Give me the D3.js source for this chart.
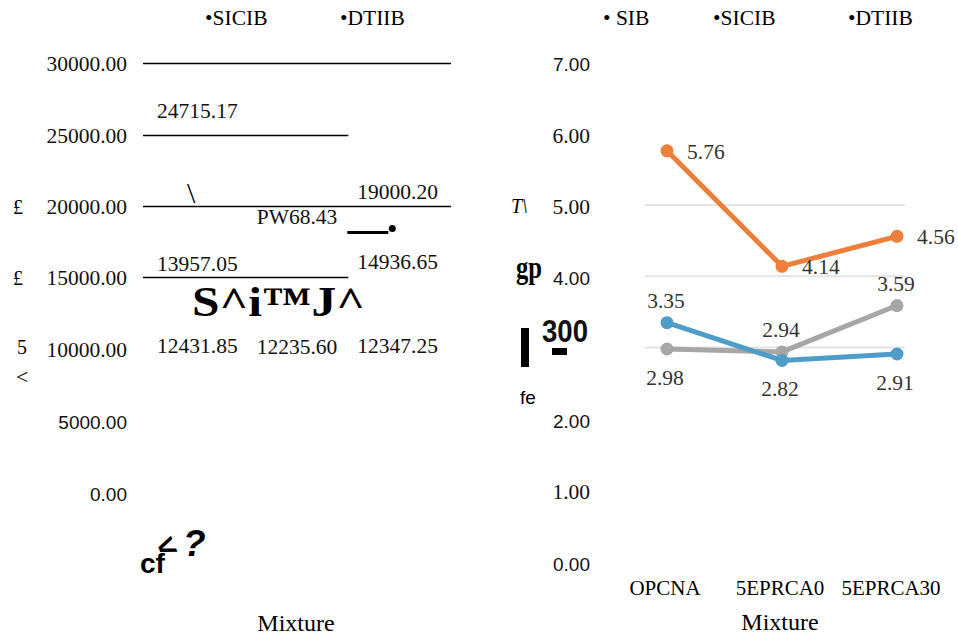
<!DOCTYPE html>
<html>
<head>
<meta charset="utf-8">
<script src="https://cdn.jsdelivr.net/npm/d3@7"></script>
<style>
  body { margin: 0; background: #fff; }
  svg { display: block; }
</style>
</head>
<body>
<div id="viz"></div>
<script>
const width = 958;
const height = 636;

// categories (x axis)
const mixtures = ['OPCNA', '5EPRCA0', '5EPRCA30'];

// left panel: values as they appear in the labels
const leftLegend = ['•SICIB', '•DTIIB'];
const leftTicks = [0, 5000, 10000, 15000, 20000, 25000, 30000];
const leftTickLabels = ['0.00', '5000.00', '10000.00', '15000.00', '20000.00', '25000.00', '30000.00'];
const leftGridValues = [30000, 25000, 20000, 15000];
const leftGridSpan = [3, 2, 3, 2]; // number of categories each line covers
const leftSeriesA = [24715.17, 19068.43, 19000.20];
const leftSeriesALabels = ['24715.17', 'PW68.43', '19000.20'];
const leftSeriesB = [13957.05, null, 14936.65];
const leftSeriesBLabels = ['13957.05', '', '14936.65'];
const leftSeriesC = [12431.85, 12235.60, 12347.25];
const leftSeriesCLabels = ['12431.85', '12235.60', '12347.25'];
const leftStray = 18150;

// right panel
const rightLegend = ['• SIB', '•SICIB', '•DTIIB'];
const rightTicks = [0, 1, 2, 3, 4, 5, 6, 7];
const rightTickLabels = ['0.00', '1.00', '2.00', '300', '4.00', '5.00', '6.00', '7.00'];
const rightGridValues = [3, 4, 5];
const sib = [3.35, 2.82, 2.91];
const sicib = [5.76, 4.14, 4.56];
const dtiib = [2.98, 2.94, 3.59];

const serif = '"Liberation Serif", "Times New Roman", serif';
const sans = '"Liberation Sans", Arial, sans-serif';

const svg = d3.select('#viz')
  .append('svg')
    .attr('width', width)
    .attr('height', height)
    .attr('viewBox', [0, 0, width, height]);

// ---------- LEFT PANEL ----------
const xLeft = d3.scaleBand()
  .domain(mixtures)
  .range([143, 451]);

const yLeft = d3.scaleLinear()
  .domain([0, 30000])
  .range([491.5, 63.3]);

const left = svg.append('g').attr('class', 'left-panel');

// legend
left.append('g')
  .selectAll('text')
  .data(leftLegend)
  .join('text')
    .attr('x', (d, i) => 205 + i * 135)
    .attr('y', 25)
    .attr('font-family', serif)
    .attr('font-size', 21.5)
    .text(d => d);

// gridlines
left.append('g')
  .selectAll('line')
  .data(leftGridValues)
  .join('line')
    .attr('x1', xLeft.range()[0])
    .attr('x2', (d, i) => xLeft.range()[0] + xLeft.step() * leftGridSpan[i])
    .attr('y1', d => Math.round(yLeft(d)) + 0.5)
    .attr('y2', d => Math.round(yLeft(d)) + 0.5)
    .attr('stroke', '#000')
    .attr('stroke-width', 1.3);

// y tick labels
const leftSerifTicks = [10000, 15000, 20000, 25000, 30000];
left.append('g')
  .selectAll('text')
  .data(leftTicks)
  .join('text')
    .attr('x', 127)
    .attr('y', d => yLeft(d) + (leftSerifTicks.includes(d) ? 8 : 9))
    .attr('text-anchor', 'end')
    .attr('font-family', d => leftSerifTicks.includes(d) ? serif : sans)
    .attr('font-size', d => leftSerifTicks.includes(d) ? 21.5 : 19)
    .attr('fill', '#111')
    .text((d, i) => leftTickLabels[i]);

// value labels
const leftLabelRows = [
  { values: leftSeriesA, labels: leftSeriesALabels, dy: [-21, 5, -21] },
  { values: leftSeriesB, labels: leftSeriesBLabels, dy: [-21, 0, -9] },
  { values: leftSeriesC, labels: leftSeriesCLabels, dy: [39, 37, 38] },
];
leftLabelRows.forEach(row => {
  left.append('g')
    .selectAll('text')
    .data(row.values.map((v, i) => ({ v, i })).filter(d => d.v !== null))
    .join('text')
      .attr('x', d => xLeft(mixtures[d.i]) + xLeft.bandwidth() / 2 + (d.i === 2 ? -2 : d.i === 0 ? 3 : 0))
      .attr('y', d => yLeft(d.v) + row.dy[d.i])
      .attr('text-anchor', 'middle')
      .attr('font-family', serif)
      .attr('font-size', 21.5)
      .attr('fill', '#111')
      .text(d => row.labels[d.i]);
});

// stray short segment and dot
const strayX = xLeft(mixtures[2]) - 1;
left.append('line')
  .attr('x1', strayX)
  .attr('x2', strayX + 41)
  .attr('y1', yLeft(leftStray))
  .attr('y2', yLeft(leftStray))
  .attr('stroke', '#000')
  .attr('stroke-width', 3);
left.append('circle')
  .attr('cx', strayX + 45)
  .attr('cy', yLeft(leftStray) - 4)
  .attr('r', 3.5)
  .attr('fill', '#000');

// garbled glyphs
left.append('text')
  .attr('x', 187).attr('y', 203)
  .attr('font-family', serif).attr('font-size', 30)
  .text('\\');
left.append('text')
  .attr('x', 192).attr('y', 316)
  .attr('font-family', serif).attr('font-size', 42).attr('font-weight', 'bold')
  .attr('textLength', 173).attr('lengthAdjust', 'spacingAndGlyphs')
  .text('S^i™J^');
left.selectAll('.pound')
  .data([214, 285])
  .join('text')
    .attr('class', 'pound')
    .attr('x', 13).attr('y', d => d)
    .attr('font-family', serif).attr('font-size', 20)
    .text('£');
left.append('text')
  .attr('x', 17).attr('y', 354)
  .attr('font-family', serif).attr('font-size', 20)
  .text('5');
left.append('text')
  .attr('x', 16).attr('y', 384)
  .attr('font-family', serif).attr('font-size', 22)
  .text('<');
left.append('text')
  .attr('x', 140).attr('y', 573)
  .attr('font-family', sans).attr('font-size', 28).attr('font-weight', 'bold')
  .text('cf');
left.append('text')
  .attr('transform', 'translate(162,560) rotate(-22)')
  .attr('font-family', sans).attr('font-size', 32).attr('font-weight', 'bold')
  .text('<');
left.append('text')
  .attr('x', 183).attr('y', 556)
  .attr('font-family', sans).attr('font-size', 37).attr('font-weight', 'bold')
  .attr('font-style', 'italic')
  .text('?');

// x axis title
left.append('text')
  .attr('x', 296).attr('y', 631)
  .attr('text-anchor', 'middle')
  .attr('font-family', serif).attr('font-size', 24)
  .text('Mixture');

// ---------- RIGHT PANEL ----------
const xRight = d3.scalePoint()
  .domain(mixtures)
  .range([667, 897]);

const yRight = d3.scaleLinear()
  .domain([0, 7])
  .range([561.5, 62.4]);

const right = svg.append('g').attr('class', 'right-panel');

right.append('g')
  .selectAll('text')
  .data(rightLegend)
  .join('text')
    .attr('x', (d, i) => [603, 713, 848][i])
    .attr('y', 25)
    .attr('font-family', serif)
    .attr('font-size', 21.5)
    .text(d => d);

// gridlines
right.append('g')
  .selectAll('line')
  .data(rightGridValues)
  .join('line')
    .attr('x1', 645)
    .attr('x2', 905)
    .attr('y1', d => yRight(d))
    .attr('y2', d => yRight(d))
    .attr('stroke', '#e3e3e3')
    .attr('stroke-width', 2);

// y tick labels
const rightTickStyle = {
  0: { f: sans, s: 19, w: 'normal' },
  1: { f: serif, s: 21.5, w: 'normal' },
  2: { f: sans, s: 19, w: 'normal' },
  3: { f: sans, s: 32, w: 'bold' },
  4: { f: sans, s: 19, w: 'normal' },
  5: { f: serif, s: 21.5, w: 'normal' },
  6: { f: serif, s: 21.5, w: 'normal' },
  7: { f: sans, s: 19, w: 'normal' },
};
right.append('g')
  .selectAll('text')
  .data(rightTicks)
  .join('text')
    .attr('x', d => d === 3 ? 542 : 590)
    .attr('y', d => d === 3 ? yRight(d) - 6 : yRight(d) + 9)
    .attr('text-anchor', d => d === 3 ? 'start' : 'end')
    .attr('font-family', d => rightTickStyle[d].f)
    .attr('font-size', d => rightTickStyle[d].s)
    .attr('font-weight', d => rightTickStyle[d].w)
    .attr('textLength', d => d === 3 ? 46 : null)
    .attr('lengthAdjust', 'spacingAndGlyphs')
    .attr('fill', '#111')
    .text((d, i) => rightTickLabels[i]);

// garbled glyphs on the y axis side
right.append('text')
  .attr('x', 511).attr('y', 213)
  .attr('font-family', serif).attr('font-size', 20).attr('font-style', 'italic')
  .text('T\\');
right.append('text')
  .attr('x', 516).attr('y', 278)
  .attr('font-family', serif).attr('font-size', 31).attr('font-weight', 'bold')
  .attr('textLength', 26).attr('lengthAdjust', 'spacingAndGlyphs')
  .text('gp');
right.append('rect')
  .attr('x', 521).attr('y', 328).attr('width', 8).attr('height', 39)
  .attr('fill', '#000');
right.append('rect')
  .attr('x', 552).attr('y', 348).attr('width', 15).attr('height', 7)
  .attr('fill', '#000');
right.append('text')
  .attr('x', 520).attr('y', 404)
  .attr('font-family', sans).attr('font-size', 19)
  .text('fe');

// category labels
right.append('g')
  .selectAll('text')
  .data(mixtures)
  .join('text')
    .attr('x', (d, i) => xRight(d) + [-2, -2, -6][i])
    .attr('y', 595)
    .attr('text-anchor', 'middle')
    .attr('font-family', serif)
    .attr('font-size', 21)
    .text(d => d);

right.append('text')
  .attr('x', 780).attr('y', 630)
  .attr('text-anchor', 'middle')
  .attr('font-family', serif).attr('font-size', 24)
  .text('Mixture');

// series lines
const series = [
  { key: 'DTIIB', values: dtiib, color: '#a6a6a6', place: ['below', 'above', 'above'] },
  { key: 'SICIB', values: sicib, color: '#ee7f3b', place: ['right', 'right', 'right'] },
  { key: 'SIB', values: sib, color: '#4e9cc8', place: ['above', 'below', 'below'] },
];

const line = d3.line()
  .x((d, i) => xRight(mixtures[i]))
  .y(d => yRight(d));

series.forEach(s => {
  const g = right.append('g').attr('class', 'series-' + s.key);
  g.append('path')
    .attr('d', line(s.values))
    .attr('fill', 'none')
    .attr('stroke', s.color)
    .attr('stroke-width', 5)
    .attr('stroke-linejoin', 'round')
    .attr('stroke-linecap', 'round');
  g.selectAll('circle')
    .data(s.values)
    .join('circle')
      .attr('cx', (d, i) => xRight(mixtures[i]))
      .attr('cy', d => yRight(d))
      .attr('r', 6.5)
      .attr('fill', s.color);
});

// data labels
const placeOffset = {
  above: { dx: -1, dy: -15, anchor: 'middle' },
  below: { dx: -2, dy: 36, anchor: 'middle' },
  right: { dx: 20, dy: 8, anchor: 'start' },
};
series.forEach(s => {
  right.append('g')
    .selectAll('text')
    .data(s.values)
    .join('text')
      .attr('x', (d, i) => xRight(mixtures[i]) + placeOffset[s.place[i]].dx)
      .attr('y', (d, i) => yRight(d) + placeOffset[s.place[i]].dy)
      .attr('text-anchor', (d, i) => placeOffset[s.place[i]].anchor)
      .attr('font-family', serif)
      .attr('font-size', 21.5)
      .attr('fill', '#333')
      .text(d => d.toFixed(2));
});
</script>
</body>
</html>
